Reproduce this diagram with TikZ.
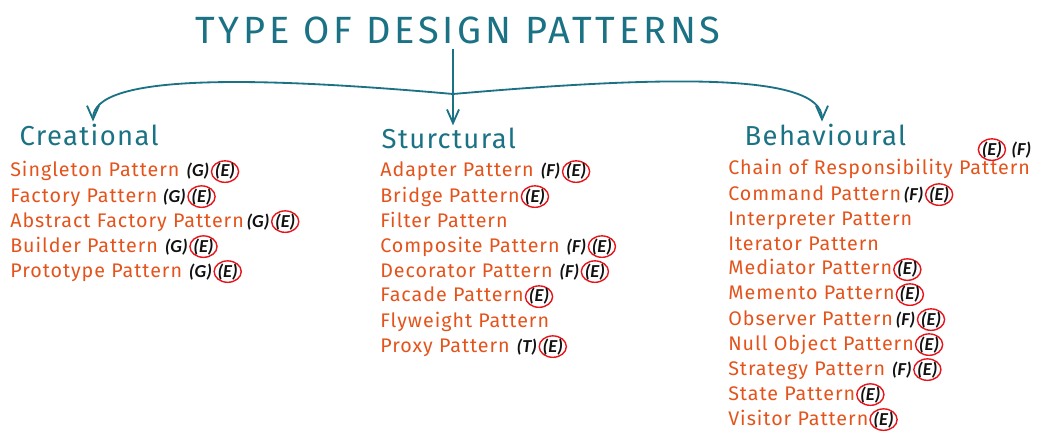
\documentclass[tikz,border=0pt]{standalone}
\usepackage{fontspec}
\setmainfont{Fira Sans}
\newfontfamily\tagfont{Carlito}
\usetikzlibrary{positioning,arrows.meta,shapes.geometric}
\definecolor{hdink}{HTML}{1B7285}
\definecolor{itemink}{HTML}{E4531B}
\definecolor{tagring}{HTML}{E8141C}
\definecolor{tagink}{HTML}{111111}
\newcommand{\ttlf}{\fontsize{27}{32}\selectfont\addfontfeature{LetterSpace=10}}
\newcommand{\grpf}{\fontsize{19.5}{23}\selectfont\addfontfeature{LetterSpace=5}}
\newcommand{\itmf}{\fontsize{14}{16}\selectfont\addfontfeature{LetterSpace=5}}
\newcommand{\tagf}{\tagfont\bfseries\itshape\fontsize{13}{15}\selectfont}

\begin{document}
\begin{tikzpicture}[
  x=0.025cm, y=-0.025cm,
  grp/.style={font=\grpf, text=hdink, anchor=base west, inner sep=1pt},
  itm/.style={font=\itmf, text=itemink, anchor=base west, inner sep=0pt},
  tg/.style={font=\tagf, text=tagink, inner sep=0.5pt},
  tge/.style={tg, ellipse, draw=tagring, line width=1pt, inner sep=-0.4pt},
  br/.style={-{Straight Barb[length=3.4mm, width=3mm]}, draw=hdink, line width=1.3pt, shorten >=1pt},
]
\useasboundingbox (0,0) rectangle (1042,440);
% ---------------- title and branches ----------------
\node[font=\ttlf, text=hdink, anchor=base] (title) at (458,44) {TYPE OF DESIGN PATTERNS};
\node[grp] (creat) at (18,146) {Creational};
\node[grp] (struct) at (380,149) {Sturctural};
\node[grp] (behav) at (743,146) {Behavioural};
\coordinate (fork) at (453,94);
\draw[br] (fork |- title.south) -- (fork |- struct.north);
\draw[br] (fork) .. controls (250,76) and (93,74) .. (creat.north -| 93,0);
\draw[br] (fork) .. controls (660,76) and (822,72) .. (behav.north -| 822,0);

% ---------------- creational ----------------
\node[itm] (c1) at (10,177) {Singleton Pattern};
\node[tg, base right=4pt of c1] (c1g) {(G)};
\node[tge, base right=0.3pt of c1g] (c1e) {(E)};
\node[itm] (c2) at (10,202) {Factory Pattern};
\node[tg, base right=3pt of c2] (c2g) {(G)};
\node[tge, base right=0.3pt of c2g] (c2e) {(E)};
\node[itm] (c3) at (10,227) {Abstract Factory Pattern};
\node[tg, base right=1pt of c3] (c3g) {(G)};
\node[tge, base right=0.3pt of c3g] (c3e) {(E)};
\node[itm] (c4) at (10,252) {Builder Pattern};
\node[tg, base right=4pt of c4] (c4g) {(G)};
\node[tge, base right=0.3pt of c4g] (c4e) {(E)};
\node[itm] (c5) at (10,277) {Prototype Pattern};
\node[tg, base right=4pt of c5] (c5g) {(G)};
\node[tge, base right=0.3pt of c5g] (c5e) {(E)};

% ---------------- structural ----------------
\node[itm] (s1) at (380,177) {Adapter Pattern};
\node[tg, base right=4pt of s1] (s1f) {(F)};
\node[tge, base right=0.3pt of s1f] (s1e) {(E)};
\node[itm] (s2) at (380,202) {Bridge Pattern};
\node[tge, base right=0.5pt of s2] (s2e) {(E)};
\node[itm] (s3) at (380,227) {Filter Pattern};
\node[itm] (s4) at (380,252) {Composite Pattern};
\node[tg, base right=4pt of s4] (s4f) {(F)};
\node[tge, base right=0.3pt of s4f] (s4e) {(E)};
\node[itm] (s5) at (380,277) {Decorator Pattern};
\node[tg, base right=4pt of s5] (s5f) {(F)};
\node[tge, base right=0.3pt of s5f] (s5e) {(E)};
\node[itm] (s6) at (380,302) {Facade Pattern};
\node[tge, base right=0.5pt of s6] (s6e) {(E)};
\node[itm] (s7) at (380,327) {Flyweight Pattern};
\node[itm] (s8) at (380,352) {Proxy Pattern};
\node[tg, base right=4pt of s8] (s8t) {(T)};
\node[tge, base right=0.3pt of s8t] (s8e) {(E)};

% ---------------- behavioural ----------------
\node[itm] (b1) at (728,175) {Chain of Responsibility Pattern};
\node[tg, anchor=base east] (b1f) at ([shift={(2,-20)}]b1.base east) {(F)};
\node[tge, base left=3pt of b1f] (b1e) {(E)};
\node[itm] (b2) at (728,200) {Command Pattern};
\node[tg, base right=1pt of b2] (b2f) {(F)};
\node[tge, base right=0.3pt of b2f] (b2e) {(E)};
\node[itm] (b3) at (728,225) {Interpreter Pattern};
\node[itm] (b4) at (728,250) {Iterator Pattern};
\node[itm] (b5) at (728,275) {Mediator Pattern};
\node[tge, base right=0.5pt of b5] (b5e) {(E)};
\node[itm] (b6) at (728,300) {Memento Pattern};
\node[tge, base right=0.5pt of b6] (b6e) {(E)};
\node[itm] (b7) at (728,325) {Observer Pattern};
\node[tg, base right=1pt of b7] (b7f) {(F)};
\node[tge, base right=0.3pt of b7f] (b7e) {(E)};
\node[itm] (b8) at (728,350) {Null Object Pattern};
\node[tge, base right=0.5pt of b8] (b8e) {(E)};
\node[itm] (b9) at (728,375) {Strategy Pattern};
\node[tg, base right=4pt of b9] (b9f) {(F)};
\node[tge, base right=0.3pt of b9f] (b9e) {(E)};
\node[itm] (b10) at (728,400) {State Pattern};
\node[tge, base right=0.5pt of b10] (b10e) {(E)};
\node[itm] (b11) at (728,425) {Visitor Pattern};
\node[tge, base right=0.5pt of b11] (b11e) {(E)};
\end{tikzpicture}
\end{document}
